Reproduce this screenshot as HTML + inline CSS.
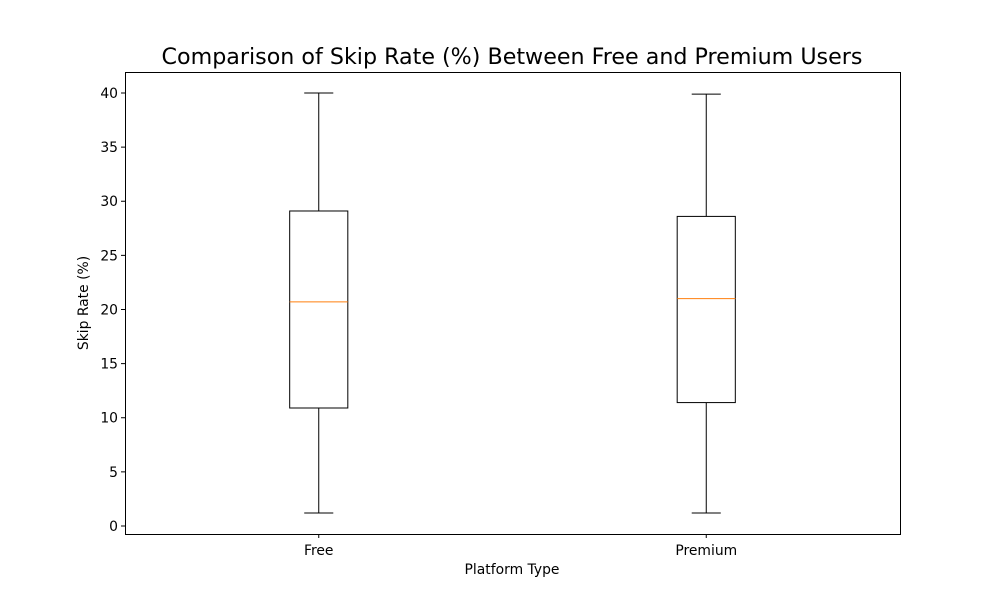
<!DOCTYPE html>
<html><head><meta charset="utf-8"><style>
body{margin:0;background:#fff;}
svg{display:block;font-family:"DejaVu Sans","Liberation Sans",sans-serif;}
</style></head><body>
<svg id="chart" width="1000" height="600" viewBox="0 0 1000 600">
<rect width="1000" height="600" fill="#fff"/>
<text x="512" y="64" font-size="22.2" text-anchor="middle">Comparison of Skip Rate (%) Between Free and Premium Users</text>
<g id="yticks"></g><g id="xticks"></g><g id="boxes"></g>
<rect x="125.5" y="72.5" width="775" height="462" fill="none" stroke="#000" stroke-width="1"/>
<text x="512" y="574" font-size="13.9" text-anchor="middle">Platform Type</text>
<text transform="translate(88,303) rotate(-90)" font-size="13.9" text-anchor="middle">Skip Rate (%)</text>
</svg>
<script>
const categories=["Free","Premium"];
const mins=[1.2,1.2];
const q1s=[10.9,11.4];
const medians=[20.7,21.0];
const q3s=[29.1,28.6];
const maxs=[40.0,39.9];
const yTicks=[0,5,10,15,20,25,30,35,40];
const NS="http://www.w3.org/2000/svg";
const X0=125,X1=900,Y0=534,Y1=72,xmin=0.5,xmax=2.5,ymin=-0.74,ymax=41.94;
const xs=v=>X0+(v-xmin)/(xmax-xmin)*(X1-X0);
const ys=v=>Y0-(v-ymin)/(ymax-ymin)*(Y0-Y1);
function mk(tag,attrs,parent){const e=document.createElementNS(NS,tag);for(const k in attrs)e.setAttribute(k,attrs[k]);parent.appendChild(e);return e;}
const yg=document.getElementById('yticks'),xg=document.getElementById('xticks'),bg=document.getElementById('boxes');
yTicks.forEach(t=>{const y=ys(t);
 const l=mk('line',{x1:X0-4,x2:X0,y1:y,y2:y,stroke:'#000'},yg);
 
 
 const tx=mk('text',{x:X0-7,y:y+5,'font-size':13.9,'text-anchor':'end'},yg);tx.textContent=t;
 
 
});
categories.forEach((c,i)=>{const x=xs(i+1);
 const l=mk('line',{x1:x,x2:x,y1:Y0,y2:Y0+4,stroke:'#000'},xg);
 
 
 const tx=mk('text',{x:x,y:Y0+21,'font-size':13.9,'text-anchor':'middle'},xg);tx.textContent=c;
 
 
 const g=mk('g',{},bg);
 
 
 const hw=(xs(1.075)-xs(1)),cw=hw/2;
 mk('line',{x1:x,x2:x,y1:ys(q1s[i]),y2:ys(mins[i]),stroke:'#000'},g);
 mk('line',{x1:x,x2:x,y1:ys(q3s[i]),y2:ys(maxs[i]),stroke:'#000'},g);
 mk('line',{x1:x-cw,x2:x+cw,y1:ys(mins[i]),y2:ys(mins[i]),stroke:'#000'},g);
 mk('line',{x1:x-cw,x2:x+cw,y1:ys(maxs[i]),y2:ys(maxs[i]),stroke:'#000'},g);
 mk('rect',{x:x-hw,y:ys(q3s[i]),width:2*hw,height:ys(q1s[i])-ys(q3s[i]),fill:'none',stroke:'#000'},g);
 const m=mk('line',{x1:x-hw,x2:x+hw,y1:ys(medians[i]),y2:ys(medians[i]),stroke:'#ff7f0e'},g);
 
 
});
</script>
</body></html>
